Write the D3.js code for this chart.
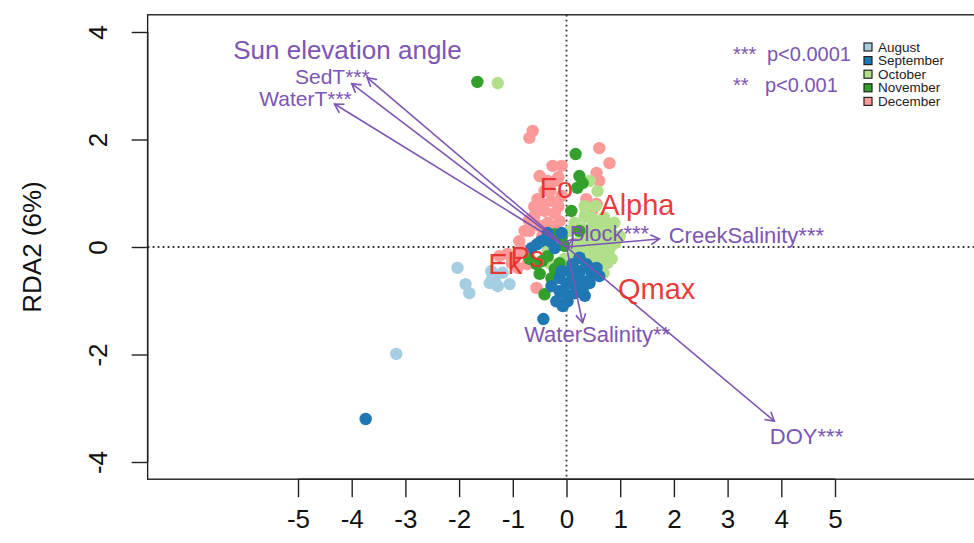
<!DOCTYPE html>
<html><head><meta charset="utf-8">
<script src="https://cdn.jsdelivr.net/npm/d3@7"></script>
<style>body{margin:0;background:#fff} text{font-family:"Liberation Sans",Arial,Helvetica,sans-serif}</style>
</head><body><svg id="c" width="974" height="543"></svg>
<script>
// ---- data ----
const months = ["August","September","October","November","December"];
const monthColors = ["#a6cee3","#1f78b4","#b2df8a","#33a02c","#fb9a99"];
const xTicks = [-5,-4,-3,-2,-1,0,1,2,3,4,5];
const yTicks = [-4,-2,0,2,4];

const augX = [-2.03,-1.88,-1.81,-1.43,-1.34,-1.28,-1.06,-1.38,-1.40,-1.19,-3.17];
const augY = [-0.39,-0.69,-0.86,-0.67,-0.63,-0.73,-0.69,-0.58,-0.45,-0.48,-1.99];
const sepX = [-3.74,-0.43,-0.47,-0.22,-0.65,0.24,0.37,0.56,0.47,0.11,0.00,-0.13,-0.19,0.02,0.19,0.11,0.30,-0.13,-0.28,0.15,0.43,0.61,-0.35,-0.09,-0.09,0.34,-0.07,0.25,0.05,-0.05,0.30,0.45,-0.30,-0.55];
const sepY = [-3.20,-1.34,0.11,-0.02,-0.02,-0.20,-0.32,-0.39,-0.50,-0.58,-0.69,-0.82,-1.01,-1.01,-0.76,-0.32,-0.63,-0.58,-0.73,-0.86,-0.67,-0.54,0.26,0.26,-0.45,-0.91,-1.10,-0.45,-0.45,-0.85,-0.80,-0.40,0.10,0.05];
const octX = [-1.28,0.43,0.58,0.34,0.47,0.61,0.74,0.84,0.71,0.52,0.30,0.15,0.06,0.43,0.61,0.80,0.91,0.58,0.76,0.34,0.15,-0.04,-0.17,-0.32,0.69,0.84,0.24,0.99,0.54,0.34,0.89,0.06,-0.35,0.45,0.65,0.55,0.75,0.40,0.50,0.65,0.45,0.30,0.20,0.70,0.25,0.10,0.85,0.35];
const octY = [3.05,1.23,1.04,0.56,0.54,0.48,0.37,0.24,0.11,0.26,0.34,0.45,0.30,0.02,-0.07,-0.04,0.07,-0.26,-0.30,-0.07,-0.11,-0.22,-0.35,-0.30,-0.48,-0.22,0.11,0.20,0.76,0.76,0.45,-0.48,-0.07,0.35,0.30,0.12,0.15,0.20,-0.15,-0.15,-0.35,-0.25,0.00,0.55,-0.40,-0.30,0.05,0.60];
const novX = [-1.66,0.17,0.24,0.20,0.30,0.09,0.24,-0.22,-0.09,-0.45,-0.56,-0.50,-0.41,-0.28,-0.35,-0.13,-0.69,-0.22,-0.04];
const novY = [3.07,1.73,1.32,1.10,1.19,0.67,0.30,0.24,0.17,-0.26,-0.32,-0.50,-0.88,-0.58,-0.17,-0.30,-0.22,-0.41,0.02];
const decX = [-0.63,-0.69,0.61,0.80,-0.26,-0.09,0.56,0.61,0.37,0.56,0.48,-0.50,-0.35,-0.20,-0.41,-0.54,-0.28,-0.09,-0.41,-0.60,-0.22,-0.50,-0.69,-0.88,-0.35,-0.13,-1.10,-0.91,-0.56,-0.73,-1.25,-1.02,-0.78,-0.78,-0.45,-0.30,-0.15,-0.60,-0.70,-0.25,-0.45,-0.15,-0.95,-0.85];
const decY = [2.16,2.03,1.84,1.56,1.51,1.51,1.38,1.23,0.89,0.80,0.67,1.32,1.23,1.23,1.04,0.89,0.86,0.95,0.67,0.58,0.63,0.39,0.30,0.11,0.45,0.48,-0.13,-0.39,-0.76,-0.32,-0.17,-0.30,-0.07,0.30,0.80,1.05,0.75,0.75,0.50,0.35,0.20,1.30,-0.20,-0.05];

// environmental vectors
const envNames = ["Sun elevation angle","SedT***","WaterT***","Block***","CreekSalinity***","WaterSalinity**","DOY***"];
const envX = [-3.71,-4.00,-4.32,0.12,1.73,0.30,3.87];
const envY = [3.15,3.04,2.66,0.15,0.15,-1.41,-3.24];
const envLabX = [-4.08,-4.36,-4.86,0.80,3.35,0.57,4.47];
const envLabY = [3.67,3.18,2.76,0.26,0.22,-1.62,-3.52];

// response labels
const respNames = ["Fo","Alpha","Ek","Ps","Qmax"];
const respX = [-0.19,1.32,-1.14,-0.73,1.68];
const respY = [1.10,0.78,-0.32,-0.19,-0.78];

const sigStars = ["***","**"];
const sigText = ["p<0.0001","p<0.001"];

// ---- drawing ----
const svg = d3.select("#c");
const x = d3.scaleLinear().domain([-5,5]).range([298,835]);
const y = d3.scaleLinear().domain([-4,4]).range([462,32]);
const purple = "#7d55b3", red = "#e8302c";

// box
svg.append("rect").attr("x",x(-7.8)).attr("y",y(4.32))
  .attr("width",x(7.8)-x(-7.8)).attr("height",y(-4.32)-y(4.32))
  .attr("fill","none").attr("stroke","#222").attr("stroke-width",1.4);

// axes
const gx = svg.append("g").attr("transform",`translate(0,${y(-4.32)})`)
  .call(d3.axisBottom(x).tickValues(xTicks).tickSize(18).tickPadding(12).tickFormat(d=>String(d)));
gx.select(".domain").attr("stroke","#222").attr("stroke-width",1.4).attr("d",`M${x(-5)},0H${x(5)}`);
gx.selectAll(".tick line").attr("stroke","#222").attr("stroke-width",1.4);
gx.selectAll(".tick text").attr("font-size",26).attr("fill","#111").attr("font-family","Liberation Sans");

const gy = svg.append("g").attr("transform",`translate(${x(-7.8)},0)`)
  .call(d3.axisLeft(y).tickValues(yTicks).tickSize(16).tickFormat(d=>String(d)));
gy.select(".domain").attr("stroke","#222").attr("stroke-width",1.4).attr("d",`M0,${y(-4)}V${y(4)}`);
gy.selectAll(".tick line").attr("stroke","#222").attr("stroke-width",1.4);
gy.selectAll(".tick text").attr("font-size",26).attr("fill","#111").attr("font-family","Liberation Sans")
  .attr("x",0).attr("dy",0).attr("text-anchor","middle")
  .attr("transform","translate(-50,0) rotate(-90)").attr("dominant-baseline","central");

svg.append("text").attr("transform",`translate(32,${y(0)}) rotate(-90)`)
  .attr("text-anchor","middle").attr("dominant-baseline","central")
  .attr("font-size",26).attr("fill","#111").text("RDA2 (6%)");

// zero lines
svg.append("line").attr("x1",x(-7.8)).attr("x2",x(7.8)).attr("y1",y(0)).attr("y2",y(0))
  .attr("stroke","#333").attr("stroke-width",1.8).attr("stroke-dasharray","1.8,3.2");
svg.append("line").attr("x1",x(0)).attr("x2",x(0)).attr("y1",y(4.32)).attr("y2",y(-4.32))
  .attr("stroke","#333").attr("stroke-width",1.8).attr("stroke-dasharray","1.8,3.2");

// points
const series = [
  {xs:decX, ys:decY, c:monthColors[4]},
  {xs:octX, ys:octY, c:monthColors[2]},
  {xs:novX, ys:novY, c:monthColors[3]},
  {xs:augX, ys:augY, c:monthColors[0]},
  {xs:sepX, ys:sepY, c:monthColors[1]}
];
series.forEach(s=>{
  svg.append("g").selectAll("circle").data(s.xs.map((v,i)=>[v,s.ys[i]])).join("circle")
    .attr("cx",d=>x(d[0])).attr("cy",d=>y(d[1])).attr("r",6.2).attr("fill",s.c);
});

// arrows
const ga = svg.append("g");
envNames.forEach((n,i)=>{
  const x1=x(0), y1=y(0), x2=x(envX[i]), y2=y(envY[i]);
  ga.append("line").attr("x1",x1).attr("y1",y1).attr("x2",x2).attr("y2",y2)
    .attr("stroke",purple).attr("stroke-width",1.6);
  const ang = Math.atan2(y2-y1,x2-x1), L=10, a=Math.PI/6;
  ga.append("path").attr("d",`M${x2-L*Math.cos(ang-a)},${y2-L*Math.sin(ang-a)}L${x2},${y2}L${x2-L*Math.cos(ang+a)},${y2-L*Math.sin(ang+a)}`)
    .attr("fill","none").attr("stroke",purple).attr("stroke-width",1.6);
  ga.append("text").attr("x",x(envLabX[i])).attr("y",y(envLabY[i]))
    .attr("text-anchor","middle").attr("dominant-baseline","central")
    .attr("font-size", i===0 ? 26 : (i<3 ? 21 : 22)).attr("fill",purple).text(n);
});

// response labels
respNames.forEach((n,i)=>{
  svg.append("text").attr("x",x(respX[i])).attr("y",y(respY[i]))
    .attr("text-anchor","middle").attr("dominant-baseline","central")
    .attr("font-size",29).attr("fill",red).attr("fill-opacity",0.95).text(n);
});

// significance legend
sigStars.forEach((s,i)=>{
  svg.append("text").attr("x",733).attr("y",61+i*31).attr("font-size",20).attr("fill",purple).text(s);
  svg.append("text").attr("x",767-i*2).attr("y",61+i*31).attr("font-size",20).attr("fill",purple).text(sigText[i]);
});

// month legend
const gl = svg.append("g");
months.forEach((m,i)=>{
  gl.append("rect").attr("x",864).attr("y",43+i*13.6).attr("width",8).attr("height",8)
    .attr("fill",monthColors[i]).attr("stroke","#222").attr("stroke-width",1.2);
  gl.append("text").attr("x",878).attr("y",47+i*13.6).attr("dominant-baseline","central")
    .attr("font-size",13.5).attr("fill","#222").text(m);
});
</script></body></html>
